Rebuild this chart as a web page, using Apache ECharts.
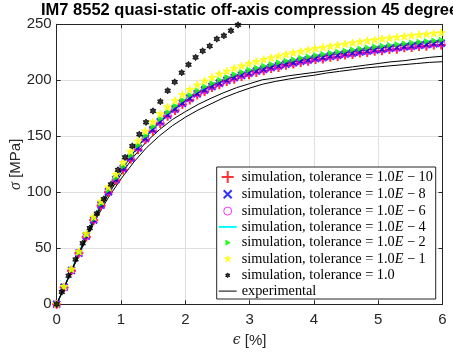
<!DOCTYPE html>
<html><head><meta charset="utf-8">
<script src="https://cdn.jsdelivr.net/npm/echarts@6/dist/echarts.min.js"></script>
<style>html,body{margin:0;padding:0;background:#fff}#c{width:453px;height:354px}</style>
</head><body><div id="c"></div>
<script>
// ---- data ----
const xTicks = [0,1,2,3,4,5,6];
const yTicks = [0,50,100,150,200,250];
const simStrain = [0,0.115,0.23,0.345,0.46,0.575,0.69,0.805,0.92,1.035,1.15,1.265,1.38,1.495,1.61,1.725,1.84,1.955,2.07,2.185,2.3,2.415,2.53,2.645,2.76,2.875,2.99,3.105,3.22,3.335,3.45,3.565,3.68,3.795,3.91,4.025,4.14,4.255,4.37,4.485,4.6,4.715,4.83,4.945,5.06,5.175,5.29,5.405,5.52,5.635,5.75,5.865,5.98];
const simTol1e10 = [0,15,30,45.5,60,75,88,100,110.5,120,129.5,138,147,154.5,161.5,168,173,178.5,182.5,187,190,193.5,196,199,201,203.5,205,207,208.5,210.5,211.5,213.5,214.5,216,217,218.5,219,220.5,221,222.5,223,224.5,224.8,226,226.4,227.5,227.8,229,229.2,230.3,230.5,231.5,231.6];
const simTol1e8 = [0,15.2,30.3,45.7,61,75.3,88.7,100.5,111.3,121.2,130.6,139.5,148,155.9,162.9,168.9,174.4,179.4,183.9,187.9,191.4,194.4,197.4,199.9,202.4,204.4,206.4,208.2,209.9,211.4,212.9,214.4,215.7,217,218.2,219.4,220.4,221.4,222.4,223.4,224.4,225.3,226.2,227,227.8,228.5,229.2,229.9,230.6,231.3,231.9,232.5,233.1];
const simTol1e6 = [0,15.3,30.2,45.9,60.8,75.5,88.5,100.8,111,121.5,130.3,139.8,147.6,156.2,162.6,169.2,174.1,179.7,183.6,188.2,191.1,194.7,197.1,200.2,202.1,204.7,206.1,208.5,209.6,211.7,212.6,214.7,215.4,217.3,217.9,219.7,220.1,221.7,222.1,223.7,224.1,225.6,225.9,227.3,227.5,228.8,228.9,230.2,230.3,231.6,231.6,232.8,232.8];
const simTol1e4 = [0,15.4,30.6,46,61.5,76,89.5,101.5,112.5,122.5,132,141,149.5,157.5,164.5,170.5,176,181,185.5,189.5,193,196,199,201.5,204,206,208,209.8,211.5,213,214.5,216,217.3,218.6,219.8,221,222,223,224,225,226,226.9,227.8,228.6,229.4,230.1,230.8,231.5,232.2,232.9,233.5,234.1,234.7];
const simTol1e2 = [0,15.4,30.7,46.1,61.7,76.3,89.9,102,113.1,123.2,132.8,141.9,150.5,158.6,165.6,171.7,177.2,182.3,186.8,190.8,194.3,197.3,200.3,202.8,205.3,207.3,209.3,211.1,212.8,214.3,215.8,217.3,218.6,219.9,221.1,222.3,223.3,224.3,225.3,226.3,227.3,228.2,229.1,229.9,230.7,231.4,232.1,232.8,233.5,234.2,234.8,235.4,236];
const simTol1e1 = [0,15.6,31.2,47,62.8,77.8,91.8,104.3,115.8,126.3,136.3,145.6,154.4,162.6,169.8,176,181.7,186.9,191.5,195.6,199.2,202.3,205.4,208,210.5,212.6,214.7,216.5,218.3,219.8,221.4,222.9,224.3,225.6,226.9,228.1,229.1,230.2,231.2,232.2,233.2,234.2,235.1,235.9,236.8,237.5,238.3,239,239.7,240.4,241,241.7,242.3];
const tol1Strain = [0,0.08,0.185,0.294,0.404,0.514,0.624,0.734,0.844,0.953,1.063,1.176,1.285,1.389,1.498,1.612,1.726,1.835,1.944,2.05,2.16,2.27,2.38,2.49,2.60,2.71,2.82];
const tol1Stress = [0,11,25.5,40,54.5,68,81,94,107,120,131.2,141.3,151.8,162.5,172.6,181,190.7,198.5,206.8,214,220.5,226.2,230.6,236.9,239.8,244.3,249.4];
const exp1Strain = [0,0.25,0.5,0.75,1,1.25,1.5,1.75,2,2.25,2.5,2.75,3,3.25,3.5,3.75,4,4.25,4.5,4.75,5,5.25,5.5,5.65,5.72,5.8,6];
const exp1Stress = [0,33,66.5,95.5,119,140,157,170.5,181.5,190.5,197.5,203,207.5,211,214,217,220,222.5,224.5,226.5,228.5,230.5,232,233,230.5,233.5,235];
const expStrain = [0,0.2,0.4,0.6,0.8,1.0,1.2,1.4,1.6,1.8,2.0,2.2,2.4,2.6,2.8,3.0,3.2,3.4,3.6,3.8,4.0,4.2,4.4,4.6,4.8,5.0,5.2,5.4,5.6,5.8,6.0];
const exp2Stress = [0,26,52,77,98,116,132,145.5,156,165,172,178.5,184,189,193.5,197,200.5,202,204,205.5,207,208.5,210.5,212,213.5,215,216.5,217.5,219,220.5,221.5];
const exp3Stress = [0,25.5,51,75,95,112,127,140,150.5,159.5,167,173.5,179,184.5,189,193,196.5,199,201,203,204.5,206.5,208,209.5,211,212,213,214,215,216,216.6];
const legendNames = ['tol1e10','tol1e8','tol1e6','tol1e4','tol1e2','tol1e1','tol1','experimental'];
const legendTexts = [
  'simulation, tolerance = 1.0{i|E} − 10',
  'simulation, tolerance = 1.0{i|E} − 8',
  'simulation, tolerance = 1.0{i|E} − 6',
  'simulation, tolerance = 1.0{i|E} − 4',
  'simulation, tolerance = 1.0{i|E} − 2',
  'simulation, tolerance = 1.0{i|E} − 1',
  'simulation, tolerance = 1.0',
  'experimental'
];

// ---- symbols (frame -10..10) ----
const F = 'M-10,-10M10,10';
const symPlus = 'path://' + F + 'M0,-8.6L0,8.6M-8.6,0L8.6,0';
const symX = 'path://' + F + 'M-5.7,-5.7L5.7,5.7M5.7,-5.7L-5.7,5.7';
const symO = 'path://' + F + 'M-5.7,0A5.7,5.7 0 1 1 5.7,0A5.7,5.7 0 1 1 -5.7,0Z';
const symTri = 'path://' + F + 'M-2.6,-3.4L3.4,0L-2.6,3.4Z';
const symStar = 'path://' + F + 'M0,-4.6L1.03,-1.42L4.37,-1.42L1.67,0.54L2.7,3.72L0,1.76L-2.7,3.72L-1.67,0.54L-4.37,-1.42L-1.03,-1.42Z';
const symHex = 'path://' + F + 'M0,-3.4L0.98,-1.7L2.94,-1.7L1.96,0L2.94,1.7L0.98,1.7L0,3.4L-0.98,1.7L-2.94,1.7L-1.96,0L-2.94,-1.7L-0.98,-1.7Z';

const pairs = (xs, ys) => xs.map((x, i) => [x, ys[i]]);

const chart = echarts.init(document.getElementById('c'), null, {renderer: 'canvas'});
const axisColor = '#262626';
const gridColor = '#dfdfdf';
const baseAxis = {
  type: 'value',
  axisLine: {show: true, onZero: false, lineStyle: {color: axisColor, width: 1}},
  axisTick: {show: true, inside: true, length: 4, lineStyle: {color: axisColor}},
  axisLabel: {color: axisColor, fontFamily: 'Liberation Sans', fontSize: 15},
  splitLine: {show: true, lineStyle: {color: gridColor, width: 1}}
};

const scatter = (name, xs, ys, symbol, size, style) => ({
  name, type: 'scatter', data: pairs(xs, ys), symbol, symbolSize: size,
  itemStyle: style, z: 2, silent: true, animation: false
});
const expLine = (xs, ys) => ({name: 'experimental', type: 'line', data: pairs(xs, ys), symbol: 'none', showSymbol: false,
  lineStyle: {color: '#000', width: 1}, itemStyle: {color: '#000'}, z: 2, silent: true});

const G = {left: 56.7, right: 10.5, top: 24.3, bottom: 49.7};
const LB = {x: 216.7, y: 167, w: 219, h: 132};

chart.setOption({
  animation: false,
  title: {
    text: 'IM7 8552 quasi-static off-axis compression 45 degree',
    left: 249.6, top: 2, padding: 0, textAlign: 'center',
    textStyle: {fontFamily: 'Liberation Sans', fontWeight: 'bold', fontSize: 16.5, color: '#000'}
  },
  grid: {left: G.left, right: G.right, top: G.top, bottom: G.bottom, containLabel: false, outerBoundsMode: 'none'},
  xAxis: [
    Object.assign({}, baseAxis, {
      min: 0, max: 6, interval: 1, position: 'bottom',
      name: '{i|ϵ} [%]', nameLocation: 'middle', nameGap: 29, nameMoveOverlap: false,
      nameTextStyle: {fontFamily: 'Liberation Sans', fontSize: 15, color: axisColor,
        rich: {i: {fontFamily: 'DejaVu Serif', fontStyle: 'italic', fontSize: 14, color: axisColor}}},
      axisLabel: Object.assign({}, baseAxis.axisLabel, {margin: 8})
    }),
    Object.assign({}, baseAxis, {
      min: 0, max: 6, interval: 1, position: 'top',
      axisLabel: {show: false}, splitLine: {show: false}
    })
  ],
  yAxis: [
    Object.assign({}, baseAxis, {
      min: 0, max: 250, interval: 50, position: 'left',
      name: '{i|σ} [MPa]', nameLocation: 'middle', nameGap: 33, nameRotate: 90, nameMoveOverlap: false,
      nameTextStyle: {fontFamily: 'Liberation Sans', fontSize: 15, color: axisColor,
        rich: {i: {fontFamily: 'Liberation Serif', fontStyle: 'italic', fontSize: 16, color: axisColor}}},
      axisLabel: Object.assign({}, baseAxis.axisLabel, {margin: 5})
    }),
    Object.assign({}, baseAxis, {
      min: 0, max: 250, interval: 50, position: 'right',
      axisLabel: {show: false}, splitLine: {show: false}
    })
  ],
  graphic: [{
    type: 'rect', z: 3, silent: true,
    shape: {x: LB.x, y: LB.y, width: LB.w, height: LB.h},
    style: {fill: '#fff', stroke: axisColor, lineWidth: 1}
  }],
  legend: {
    orient: 'vertical',
    left: LB.x, top: LB.y,
    padding: [2, 2, 2, 1],
    itemWidth: 18, itemHeight: 14, itemGap: 1.3,
    z: 4,
    selectedMode: false,
    textStyle: {fontFamily: 'Liberation Serif', fontSize: 14.3, color: '#000', lineHeight: 14,
      rich: {i: {fontFamily: 'Liberation Serif', fontStyle: 'italic', fontSize: 14.3, color: '#000', lineHeight: 14}}},
    formatter: (name) => legendTexts[legendNames.indexOf(name)],
    data: [
      {name: 'tol1e10', itemStyle: {color: 'rgba(0,0,0,0)', borderColor: '#ff0000', borderWidth: 2}},
      {name: 'tol1e8', itemStyle: {color: 'rgba(0,0,0,0)', borderColor: '#0000ff', borderWidth: 2}},
      {name: 'tol1e6', itemStyle: {color: 'rgba(0,0,0,0)', borderColor: '#ff00ff', borderWidth: 1}},
      {name: 'tol1e4', itemStyle: {color: 'rgba(0,0,0,0)', borderWidth: 0}, lineStyle: {color: '#00ffff', width: 2}},
      {name: 'tol1e2', itemStyle: {color: '#00ff00', borderColor: '#00ff00', borderWidth: 1}},
      {name: 'tol1e1', itemStyle: {color: '#ffff00', borderColor: '#ffff00', borderWidth: 1}},
      {name: 'tol1', itemStyle: {color: '#000', borderColor: '#000', borderWidth: 1}},
      {name: 'experimental', itemStyle: {color: 'rgba(0,0,0,0)', borderWidth: 0}, lineStyle: {color: '#000', width: 1}}
    ]
  },
  series: [
    scatter('tol1e10', simStrain, simTol1e10, symPlus, 10.5, {color: 'rgba(0,0,0,0)', borderColor: '#ff0000', borderWidth: 2}),
    scatter('tol1e8', simStrain, simTol1e8, symX, 12.3, {color: 'rgba(0,0,0,0)', borderColor: '#0000ff', borderWidth: 2}),
    scatter('tol1e6', simStrain, simTol1e6, symO, 12.3, {color: 'rgba(0,0,0,0)', borderColor: '#ff00ff', borderWidth: 1}),
    {name: 'tol1e4', type: 'line', data: pairs(simStrain, simTol1e4), symbol: 'none', showSymbol: false,
      lineStyle: {color: '#00ffff', width: 1.5}, itemStyle: {color: '#00ffff'}, z: 2, silent: true},
    scatter('tol1e2', simStrain, simTol1e2, symTri, 15.5, {color: '#00ff00', borderColor: '#00ff00', borderWidth: 1}),
    scatter('tol1e1', simStrain, simTol1e1, symStar, 18, {color: '#ffff00', borderColor: '#ffff00', borderWidth: 1}),
    scatter('tol1', tol1Strain, tol1Stress, symHex, 19, {color: '#000', borderColor: '#000', borderWidth: 1}),
    expLine(exp1Strain, exp1Stress),
    expLine(expStrain, exp2Stress),
    expLine(expStrain, exp3Stress)
  ]
});
</script></body></html>
